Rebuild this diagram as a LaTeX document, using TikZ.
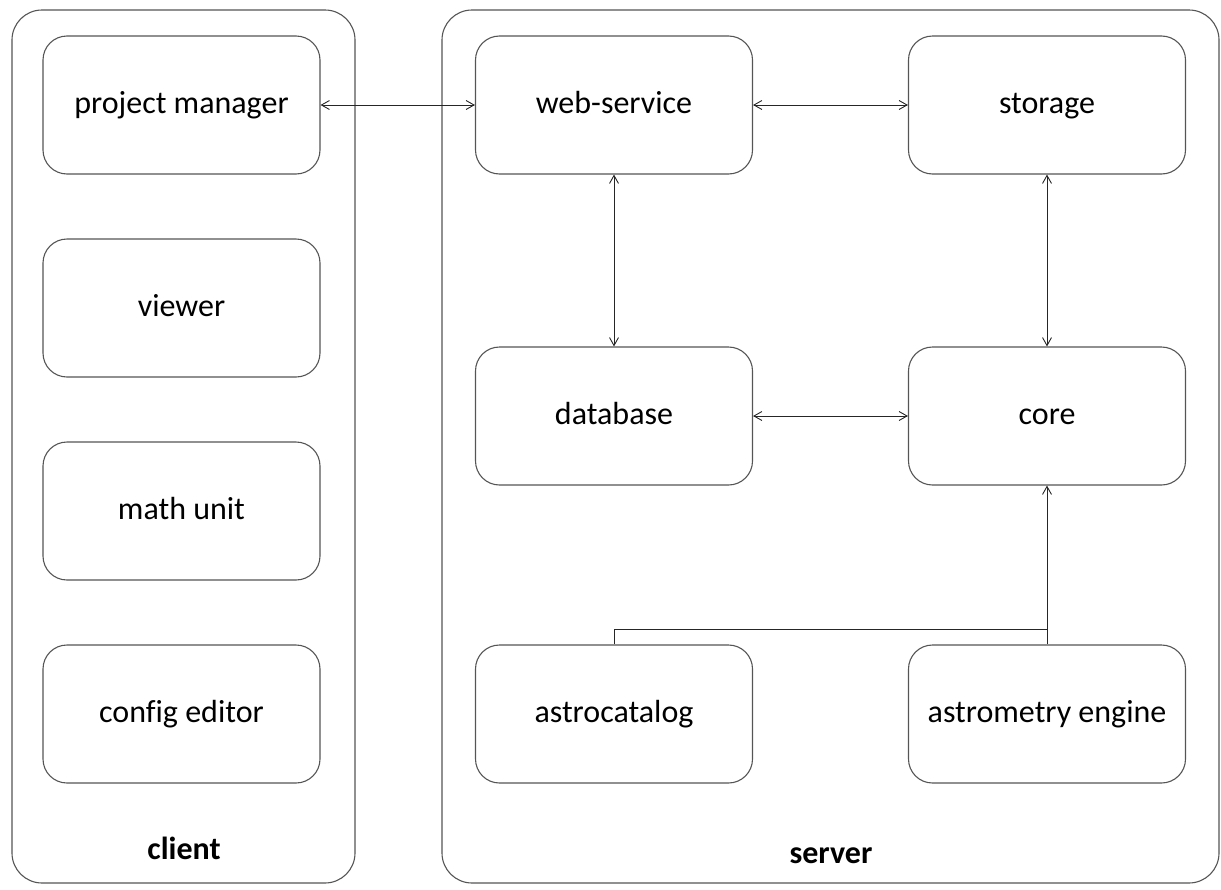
\documentclass[tikz,border=0pt]{standalone}
\usepackage{fontspec}
\setmainfont{Carlito}[Ligatures=NoCommon]
\usetikzlibrary{arrows.meta}
\definecolor{edge}{HTML}{555555}
\tikzset{
  box/.style={draw=edge, line width=1.1pt, rounded corners=24pt, minimum width=277pt, minimum height=138pt, inner sep=0pt, font=\fontsize{32}{38}\selectfont, text height=16pt, text depth=0pt},
  group/.style={draw=edge, line width=1.1pt, rounded corners=30pt, inner sep=0pt},
  grouplabel/.style={inner sep=0pt, font=\fontsize{32}{38}\selectfont\bfseries, text height=16pt, text depth=0pt},
  link/.style={draw=black!85, line width=0.9pt},
  tip/.style={-{Straight Barb[length=8pt,width=9pt,line width=0.9pt]}},
  tips/.style={{Straight Barb[length=8pt,width=9pt,line width=0.9pt]}-{Straight Barb[length=8pt,width=9pt,line width=0.9pt]}}
}
\begin{document}
\begin{tikzpicture}[x=1pt,y=-1pt]
\useasboundingbox (0,0) rectangle (1221,889);
% containers
\node[group, minimum width=343pt, minimum height=873pt] (clientgrp) at (183.5,446.5) {};
\node[group, minimum width=777pt, minimum height=873pt] (servergrp) at (830.5,446.5) {};
\node[grouplabel] (clientlbl) at (184,851) {client};
\node[grouplabel] (serverlbl) at (831,855) {server};
% client boxes
\node[box] (pm) at (181.5,105) {project manager};
\node[box] (viewer) at (181.5,308) {viewer};
\node[box] (math) at (181.5,511) {math unit};
\node[box] (config) at (181.5,714) {config editor};
% server boxes
\node[box] (ws) at (614,105) {web-service};
\node[box] (storage) at (1047,105) {storage};
\node[box] (db) at (614,416) {database};
\node[box] (core) at (1047,416) {core};
\node[box] (astrocat) at (614,714) {astrocatalog};
\node[box] (engine) at (1047,714) {astrometry engine};
% connectors
\draw[link, tips] (pm.east) -- (ws.west);
\draw[link, tips] (ws.east) -- (storage.west);
\draw[link, tips] (ws.south) -- (db.north);
\draw[link, tips] (storage.south) -- (core.north);
\draw[link, tips] (db.east) -- (core.west);
\coordinate (join) at (1047,629);
\draw[link] (astrocat.north) |- (join);
\draw[link, tip] (engine.north) -- (core.south);
\end{tikzpicture}
\end{document}
